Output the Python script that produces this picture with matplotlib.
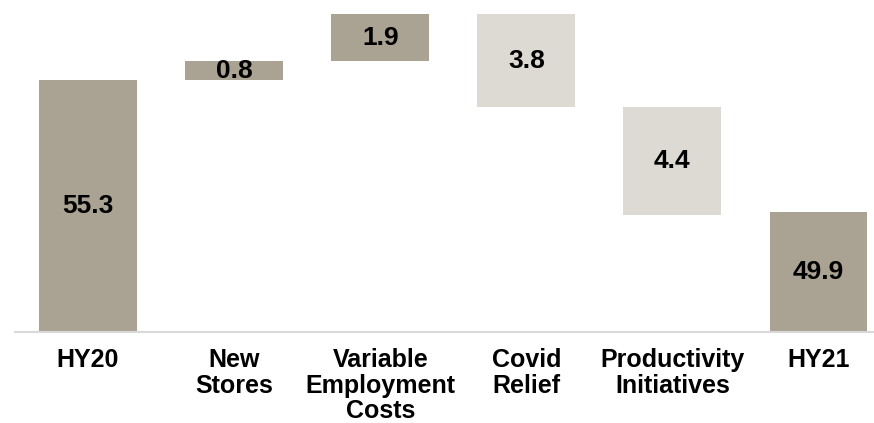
import matplotlib.pyplot as plt
import numpy as np

categories = ['HY20', 'New\nStores', 'Variable\nEmployment\nCosts', 'Covid\nRelief', 'Productivity\nInitiatives', 'HY21']
start_value = 55.3
changes = [0.8, 1.9, -3.8, -4.4]
end_value = 49.9

dark = '#aaa292'
light = '#dcdad3'

plt.rcParams['font.family'] = ['Liberation Sans', 'DejaVu Sans']

fig = plt.figure(figsize=(8.74, 4.23), dpi=100)
ax = fig.add_axes([15 / 874, 91.3 / 423, 1 - 15 / 874, 1 - 91.3 / 423])

x = np.arange(len(categories))
width = 0.67

bottoms = []
heights = []
colors = []
labels = []

bottoms.append(0)
heights.append(start_value)
colors.append(dark)
labels.append(start_value)

level = start_value
for c in changes:
	if c >= 0:
		bottoms.append(level)
		heights.append(c)
		colors.append(dark)
	else:
		bottoms.append(level + c)
		heights.append(-c)
		colors.append(light)
	labels.append(abs(c))
	level += c

bottoms.append(0)
heights.append(end_value)
colors.append(dark)
labels.append(end_value)

ax.bar(x, heights, width, bottom=bottoms, color=colors, edgecolor='none', zorder=2)

ymin = 45.0
for xi, b, h, lab in zip(x, bottoms, heights, labels):
	lo = max(b, ymin)
	ax.text(xi, (lo + b + h) / 2, '%.1f' % lab, ha='center', va='center',
		fontsize=19, fontweight='bold', color='black', zorder=3)

ax.set_ylim(ymin, 58.59)
ax.set_xlim(-0.5, 5.38)

for s in ['top', 'right', 'left']:
	ax.spines[s].set_visible(False)
ax.spines['bottom'].set_color('#d9d9d9')
ax.spines['bottom'].set_linewidth(1.5)
ax.set_yticks([])
ax.set_xticks(x)
ax.set_xticklabels(categories, fontsize=18, fontweight='bold', linespacing=1.07)
ax.tick_params(axis='x', length=0, pad=12)

fig.savefig('out.png', dpi=100)
